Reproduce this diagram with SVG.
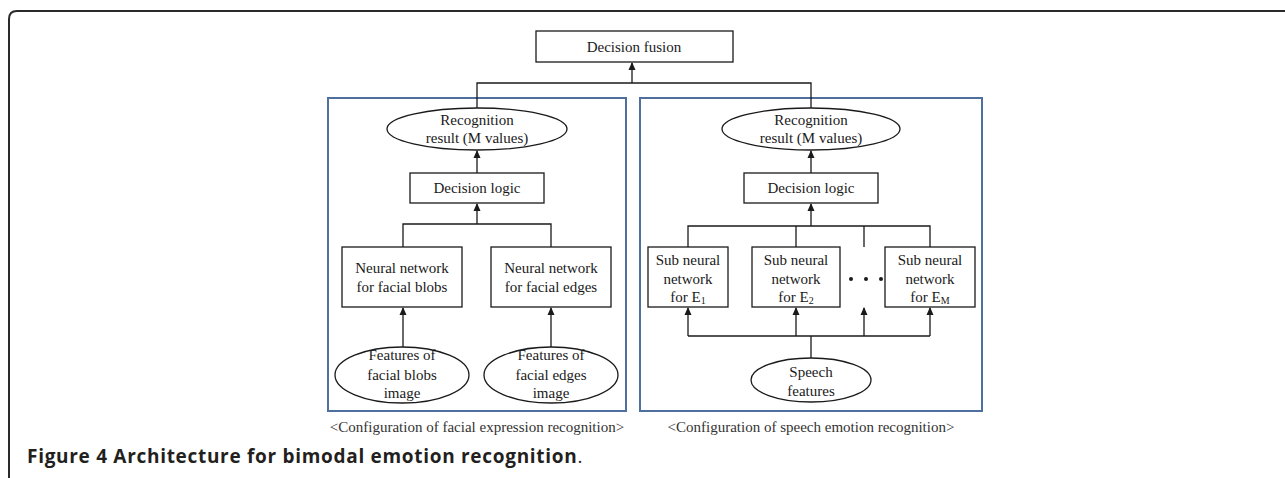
<svg xmlns="http://www.w3.org/2000/svg" width="1285" height="478" viewBox="0 0 1285 478">
<style>
.bx{fill:#fff;stroke:#1a1a1a;stroke-width:1.3}
.pn{fill:none;stroke:#4f6f9f;stroke-width:2}
.ln{fill:none;stroke:#1a1a1a;stroke-width:1.3}
.t{font-family:"Liberation Serif",serif;font-size:15px;fill:#1a1a1a;text-anchor:middle}
.cap{font-family:"Liberation Serif",serif;font-size:15px;fill:#333;text-anchor:middle}
.fig{font-family:"Open Sans",sans-serif;font-size:19px;letter-spacing:0.7px;fill:#231f20;font-weight:bold}
</style>
<defs>
<marker id="ah" markerWidth="8" markerHeight="8" refX="7" refY="4" orient="auto" markerUnits="userSpaceOnUse">
<path d="M0,0.5 L8,4 L0,7.5 Z" fill="#1a1a1a"/>
</marker>
</defs>
<rect width="1285" height="478" fill="#fff"/>
<path d="M9,478 L9,19 Q9,11 17,11 L1285,11" fill="none" stroke="#2a2a2a" stroke-width="2"/>

<g id="panels">
<rect class="pn" x="328" y="98" width="298" height="313"/>
<rect class="pn" x="640" y="98" width="342" height="313"/>
</g>

<g id="connectors">
<polyline class="ln" points="477,108 477,83 811,83 811,108"/>
<line class="ln" x1="632" y1="83" x2="632" y2="63" marker-end="url(#ah)"/>
<line class="ln" x1="477" y1="173" x2="477" y2="151" marker-end="url(#ah)"/>
<line class="ln" x1="811" y1="173" x2="811" y2="151" marker-end="url(#ah)"/>
<polyline class="ln" points="403,247 403,224 551,224 551,247"/>
<line class="ln" x1="477" y1="224" x2="477" y2="204" marker-end="url(#ah)"/>
<line class="ln" x1="403" y1="347" x2="403" y2="308" marker-end="url(#ah)"/>
<line class="ln" x1="551" y1="347" x2="551" y2="308" marker-end="url(#ah)"/>
<polyline class="ln" points="688,247 688,226 930,226 930,247"/>
<line class="ln" x1="796" y1="226" x2="796" y2="247"/>
<line class="ln" x1="864" y1="226" x2="864" y2="247"/>
<line class="ln" x1="811" y1="226" x2="811" y2="204" marker-end="url(#ah)"/>
<polyline class="ln" points="688,336 930,336"/>
<line class="ln" x1="811" y1="359" x2="811" y2="336"/>
<line class="ln" x1="688" y1="336" x2="688" y2="308" marker-end="url(#ah)"/>
<line class="ln" x1="796" y1="336" x2="796" y2="308" marker-end="url(#ah)"/>
<line class="ln" x1="864" y1="336" x2="864" y2="308" marker-end="url(#ah)"/>
<line class="ln" x1="930" y1="336" x2="930" y2="308" marker-end="url(#ah)"/>
</g>

<g id="decision-fusion">
<rect class="bx" x="536" y="31" width="197" height="31"/>
<text class="t" x="634" y="52">Decision fusion</text>
</g>

<g id="face-result">
<ellipse class="bx" cx="477" cy="129" rx="90" ry="21"/>
<text class="t" x="477" y="125">Recognition</text>
<text class="t" x="477" y="143">result (M values)</text>
</g>
<g id="face-logic">
<rect class="bx" x="410" y="173" width="134" height="30"/>
<text class="t" x="477" y="193">Decision logic</text>
</g>
<g id="nn-blobs">
<rect class="bx" x="342" y="247" width="120" height="60"/>
<text class="t" x="402" y="273">Neural network</text>
<text class="t" x="402" y="292">for facial blobs</text>
</g>
<g id="nn-edges">
<rect class="bx" x="491" y="247" width="120" height="60"/>
<text class="t" x="551" y="273">Neural network</text>
<text class="t" x="551" y="292">for facial edges</text>
</g>
<g id="feat-blobs">
<ellipse class="bx" cx="402" cy="375" rx="67" ry="28"/>
<text class="t" x="402" y="360">Features of</text>
<text class="t" x="402" y="380">facial blobs</text>
<text class="t" x="402" y="398">image</text>
</g>
<g id="feat-edges">
<ellipse class="bx" cx="551" cy="375" rx="67" ry="28"/>
<text class="t" x="551" y="360">Features of</text>
<text class="t" x="551" y="380">facial edges</text>
<text class="t" x="551" y="398">image</text>
</g>

<g id="speech-result">
<ellipse class="bx" cx="811" cy="129" rx="89" ry="21"/>
<text class="t" x="811" y="125">Recognition</text>
<text class="t" x="811" y="143">result (M values)</text>
</g>
<g id="speech-logic">
<rect class="bx" x="744" y="173" width="134" height="30"/>
<text class="t" x="811" y="193">Decision logic</text>
</g>
<g id="sub-e1">
<rect class="bx" x="648" y="247" width="80" height="60"/>
<text class="t" x="688" y="265">Sub neural</text>
<text class="t" x="688" y="284">network</text>
<text class="t" x="688" y="302">for E<tspan font-size="10" dy="2">1</tspan></text>
</g>
<g id="sub-e2">
<rect class="bx" x="752" y="247" width="88" height="60"/>
<text class="t" x="796" y="265">Sub neural</text>
<text class="t" x="796" y="284">network</text>
<text class="t" x="796" y="302">for E<tspan font-size="10" dy="2">2</tspan></text>
</g>
<g id="dots" fill="#1a1a1a">
<circle cx="851" cy="279" r="2"/>
<circle cx="866" cy="279" r="2"/>
<circle cx="881" cy="279" r="2"/>
</g>
<g id="sub-em">
<rect class="bx" x="885" y="247" width="90" height="60"/>
<text class="t" x="930" y="265">Sub neural</text>
<text class="t" x="930" y="284">network</text>
<text class="t" x="930" y="302">for E<tspan font-size="10" dy="2">M</tspan></text>
</g>
<g id="speech-features">
<ellipse class="bx" cx="811" cy="380" rx="60" ry="22"/>
<text class="t" x="811" y="377">Speech</text>
<text class="t" x="811" y="396">features</text>
</g>

<g id="captions">
<text class="cap" x="477" y="432">&lt;Configuration of facial expression recognition&gt;</text>
<text class="cap" x="811" y="432">&lt;Configuration of speech emotion recognition&gt;</text>
<text class="fig" x="27" y="463">Figure 4 Architecture for bimodal emotion recognition<tspan font-weight="normal">.</tspan></text>
</g>
</svg>
